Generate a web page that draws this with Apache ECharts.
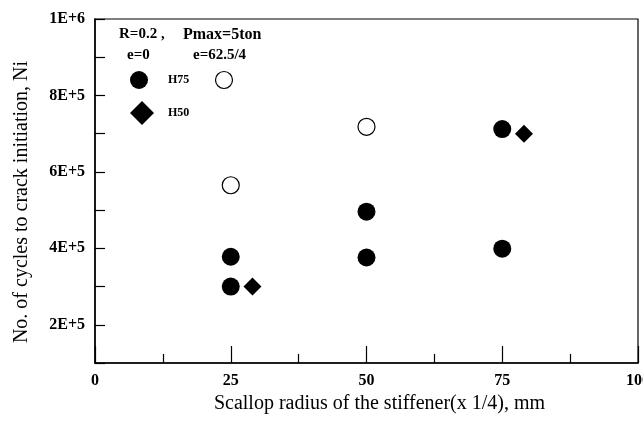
<!DOCTYPE html>
<html>
<head>
<meta charset="utf-8">
<script src="https://cdn.jsdelivr.net/npm/echarts@6/dist/echarts.min.js"></script>
<style>
  html, body { margin: 0; padding: 0; background: #fff; }
  #chart { width: 643px; height: 422px; }
</style>
</head>
<body>
<div id="chart"></div>
<script>
// Data
const xTicks = [0, 25, 50, 75, 100];
const yTickLabels = ["2E+5", "4E+5", "6E+5", "8E+5", "1E+6"];
// H75, e=0 (filled circles)
const h75E0 = [[25, 3.78e5], [25, 3.0e5], [50, 4.96e5], [50, 3.76e5], [75, 7.12e5], [75, 3.99e5]];
// H75, e=62.5/4 (open circles)
const h75Ecc = [[25, 5.65e5], [50, 7.18e5]];
// H50, e=0 (diamonds)
const h50E0 = [[29, 3.0e5], [79, 7.0e5]];

const FONT = "Liberation Serif";
const chart = echarts.init(document.getElementById("chart"), null, { renderer: "canvas" });

// y labels only every 2E+5
function yLabel(v) {
  const n = Math.round(v / 1e5);
  if (n % 2 !== 0) return "";
  return yTickLabels[n / 2 - 1] || "";
}

const option = {
  backgroundColor: "#fff",
  animation: false,
  grid: {
    left: 95, right: 5, top: 19, bottom: 59,
    outerBoundsMode: "none",
    show: true, borderColor: "#000", borderWidth: 1.2, backgroundColor: "transparent",
  },
  xAxis: {
    type: "value",
    min: xTicks[0], max: xTicks[xTicks.length - 1], interval: 25,
    name: "Scallop radius of the stiffener(x 1/4), mm",
    nameLocation: "middle", nameGap: 27,
    nameTextStyle: { fontFamily: FONT, fontSize: 20, color: "#000", padding: [0, 0, 0, 26] },
    axisLine: { lineStyle: { color: "#000", width: 1.5 } },
    axisTick: { inside: true, length: 17, lineStyle: { color: "#000", width: 1.2 } },
    minorTick: { show: true, splitNumber: 2, length: 9, lineStyle: { color: "#000", width: 1.2 } },
    axisLabel: { fontFamily: FONT, fontSize: 16, fontWeight: "bold", color: "#000", margin: 10, showMaxLabel: true },
    splitLine: { show: false },
  },
  yAxis: {
    type: "value",
    min: 1e5, max: 1e6, interval: 1e5,
    name: "No. of cycles to crack initiation, Ni",
    nameLocation: "middle", nameGap: 63,
    nameTextStyle: { fontFamily: FONT, fontSize: 20, color: "#000", padding: [0, 22, 0, 0] },
    axisLine: { lineStyle: { color: "#000", width: 1.5 } },
    axisTick: { inside: true, length: 10, lineStyle: { color: "#000", width: 1.2 } },
    axisLabel: { fontFamily: FONT, fontSize: 16, fontWeight: "bold", color: "#000", margin: 10, formatter: yLabel },
    splitLine: { show: false },
  },
  series: [
    {
      name: "H75 e=0", type: "scatter", data: h75E0,
      symbol: "circle", symbolSize: 18,
      itemStyle: { color: "#000", opacity: 1 },
    },
    {
      name: "H75 e=62.5/4", type: "scatter", data: h75Ecc,
      symbol: "circle", symbolSize: 17,
      itemStyle: { color: "#fff", borderColor: "#000", borderWidth: 1.2, opacity: 1 },
    },
    {
      name: "H50 e=0", type: "scatter", data: h50E0,
      symbol: "diamond", symbolSize: 18,
      itemStyle: { color: "#000", opacity: 1 },
    },
  ],
  graphic: [
    { type: "text", left: 119, top: 27, style: { text: "R=0.2 ,", font: "bold 15px " + FONT, fill: "#000" } },
    { type: "text", left: 183, top: 27, style: { text: "Pmax=5ton", font: "bold 16px " + FONT, fill: "#000" } },
    { type: "text", left: 127, top: 48, style: { text: "e=0", font: "bold 15px " + FONT, fill: "#000" } },
    { type: "text", left: 193, top: 48, style: { text: "e=62.5/4", font: "bold 15px " + FONT, fill: "#000" } },
    { type: "circle", shape: { cx: 139, cy: 80, r: 9 }, style: { fill: "#000" } },
    { type: "text", left: 168, top: 74, style: { text: "H75", font: "bold 12px " + FONT, fill: "#000" } },
    { type: "circle", shape: { cx: 224, cy: 80, r: 8.5 }, style: { fill: "#fff", stroke: "#000", lineWidth: 1.2 } },
    { type: "polygon", shape: { points: [[142, 101], [154, 113], [142, 125], [130, 113]] }, style: { fill: "#000" } },
    { type: "text", left: 168, top: 107, style: { text: "H50", font: "bold 12px " + FONT, fill: "#000" } },
  ],
};

chart.setOption(option);
</script>
</body>
</html>
